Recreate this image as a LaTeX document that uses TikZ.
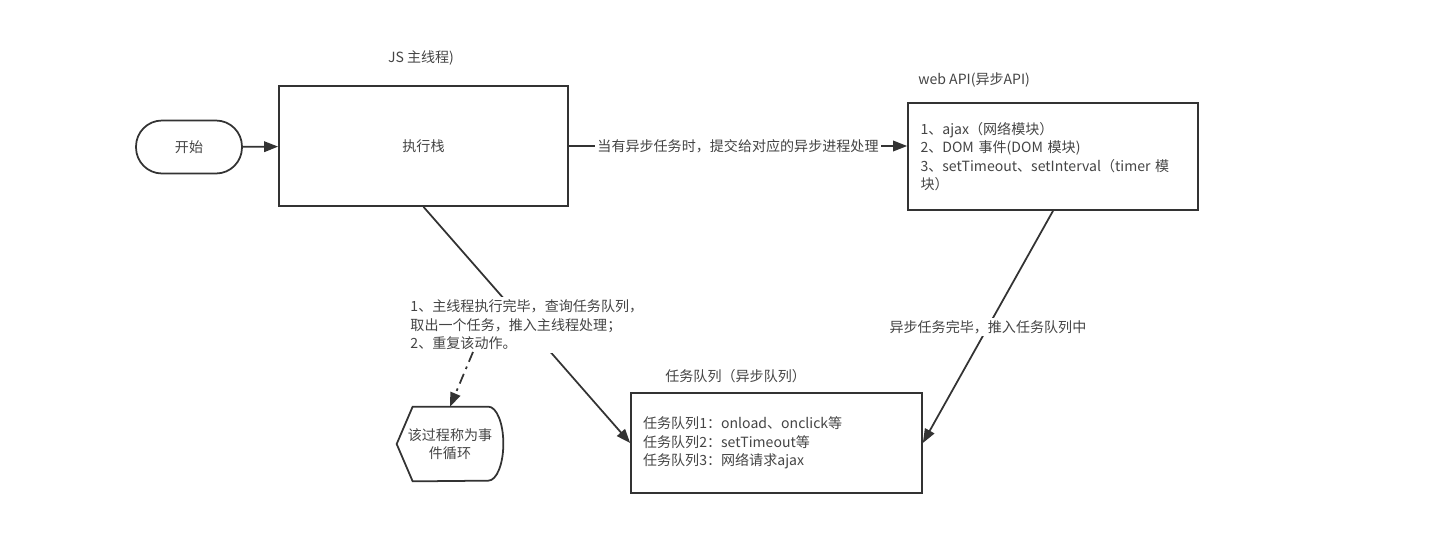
\documentclass[tikz,border=0pt]{standalone}
\usepackage{fontspec}
\setmainfont{Noto Sans CJK SC}
\usetikzlibrary{arrows.meta}
\definecolor{ink}{HTML}{333333}
\definecolor{txt}{HTML}{444444}

\begin{document}
\begin{tikzpicture}[x=0.02cm,y=-0.02cm,
        every node/.style={font=\fontsize{8pt}{10.5pt}\selectfont,text=txt,inner sep=0pt},
        box/.style={draw=ink,line width=1pt},
        term/.style={box,rounded corners=0.52cm},
        flow/.style={draw=ink,line width=1pt,-{Triangle[length=8pt,width=6pt]}},
        note/.style={fill=white,inner sep=1.5pt}]
        \useasboundingbox (0,0) rectangle (1449,552);

        \node[term,minimum width=2.12cm,minimum height=1.06cm] (start) at (189,147) {开始};
        \node[box,minimum width=5.78cm,minimum height=2.4cm] (stack) at (423.5,146) {执行栈};
        \node (stacktitle) at (421,58) {JS 主线程)};
        \node[box,minimum width=5.8cm,minimum height=2.14cm,text width=5.3cm,align=left] (webapi) at (1053,156.5)
            {1、ajax（网络模块）\\2、DOM 事件(DOM 模块)\\3、setTimeout、setInterval（timer 模\\块）};
        \node[anchor=west] (apititle) at (918,80) {web API(异步API)};
        \node[box,minimum width=5.82cm,minimum height=2cm,text width=5.34cm,align=left] (queue) at (776.5,443)
            {任务队列1：onload、onclick等\\任务队列2：setTimeout等\\任务队列3：网络请求ajax};
        \node[anchor=west] (queuetitle) at (665,376) {任务队列（异步队列）};
        \node[minimum width=2.12cm,minimum height=1.48cm,align=center] (loop) at (450,444) {该过程称为事\\件循环};
        \draw[box] ([xshift=0.32cm]loop.north west) -- ([xshift=-0.3cm]loop.north east)
            arc[start angle=90,end angle=-90,x radius=0.3cm,y radius=0.74cm]
            -- ([xshift=0.32cm]loop.south west) -- (loop.west) -- cycle;

        \draw[flow] (start) -- (stack);
        \draw[flow] (stack.east) -- (stack.east -| webapi.west)
            node[midway,note] {当有异步任务时，提交给对应的异步进程处理};
        \draw[flow] (webapi.south) -- (queue.east)
            node[midway,note] {异步任务完毕，推入任务队列中};
        \draw[flow] (stack.south) -- (queue.west)
            node[midway,note,align=left] (loopnote) {1、主线程执行完毕，查询任务队列，\\取出一个任务，推入主线程处理；\\2、重复该动作。};
        \coordinate (dashstart) at (473,352);
        \draw[flow,dash pattern=on 6pt off 3pt on 1.5pt off 3pt] (dashstart) -- (loop.north);
    \end{tikzpicture}
\end{document}
